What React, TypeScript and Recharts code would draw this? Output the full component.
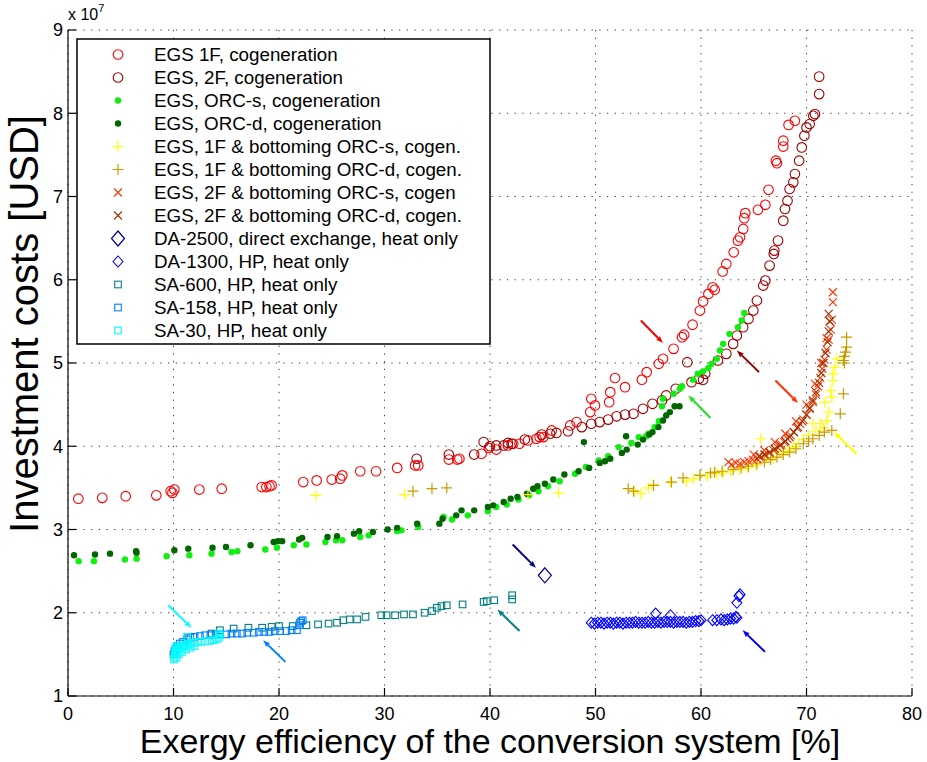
import React from 'react';
import { ScatterChart, Scatter, XAxis, YAxis, CartesianGrid, ReferenceLine } from 'recharts';

const FONT = '"Liberation Sans", Arial, Helvetica, sans-serif';

const xTicks = [0, 10, 20, 30, 40, 50, 60, 70, 80];
const yTicks = [1, 2, 3, 4, 5, 6, 7, 8, 9];
const xTitle = 'Exergy efficiency of the conversion system [%]';
const yTitle = 'Investment costs [USD]';

// [exergy efficiency %, investment cost in 1e7 USD]
const egs1F = [
  [0.98, 3.37], [3.25, 3.38], [5.47, 3.40], [8.37, 3.41], [9.73, 3.46], [9.9, 3.44], [10.08, 3.48], [12.45, 3.48],
  [14.57, 3.49], [18.36, 3.51], [18.8, 3.51], [19.1, 3.52], [19.3, 3.53], [22.3, 3.57], [23.57, 3.59], [25.0, 3.60],
  [25.8, 3.61], [26.0, 3.65], [27.7, 3.70], [29.2, 3.70], [31.2, 3.74], [32.9, 3.77], [33.2, 3.77], [36.1, 3.84],
  [36.9, 3.84], [37.1, 3.85], [39.2, 3.91], [39.9, 3.98], [40.6, 3.96], [41.7, 4.01], [42.2, 4.03], [42.8, 4.03],
  [43.6, 4.07], [44.4, 4.09], [44.7, 4.11], [45.05, 4.11], [45.85, 4.19], [47.6, 4.25], [48.2, 4.29], [49.5, 4.41],
  [49.6, 4.57], [49.95, 4.49], [51.3, 4.53], [51.4, 4.65], [51.85, 4.82], [52.8, 4.71], [54.4, 4.80], [54.85, 4.89],
  [56.0, 4.99], [56.4, 5.05], [57.4, 5.17], [58.2, 5.31], [58.4, 5.34], [59.2, 5.46], [59.9, 5.63], [60.2, 5.74],
  [60.7, 5.83], [61.1, 5.91], [61.3, 5.88], [62.05, 6.10], [62.4, 6.19], [63.1, 6.33], [63.5, 6.47], [63.7, 6.51],
  [64.0, 6.61], [64.1, 6.74], [64.2, 6.80], [65.4, 6.84], [66.1, 6.90], [66.4, 7.08], [67.1, 7.43], [67.2, 7.40],
  [67.8, 7.67], [67.8, 7.60], [68.3, 7.86], [68.9, 7.91],
];

const egs2F = [
  [33.05, 3.85], [36.1, 3.90], [38.5, 3.90], [39.4, 4.05], [40.0, 4.00], [40.6, 4.01], [41.3, 4.01], [41.7, 4.04],
  [42.05, 4.03], [43.3, 4.08], [44.9, 4.14], [45.7, 4.15], [46.3, 4.16], [47.4, 4.18], [48.7, 4.23], [49.6, 4.27],
  [50.4, 4.29], [51.2, 4.32], [52.0, 4.36], [52.8, 4.38], [53.6, 4.39], [54.5, 4.45], [55.4, 4.51], [56.3, 4.55],
  [56.7, 4.61], [57.6, 4.69], [58.7, 5.01], [59.1, 4.77], [59.8, 4.81], [60.2, 4.80], [60.4, 4.87], [61.6, 5.03],
  [62.4, 5.11], [63.05, 5.23], [63.4, 5.33], [64.0, 5.43], [64.5, 5.53], [64.96, 5.63], [65.3, 5.75], [65.9, 5.93],
  [66.1, 5.99], [66.5, 6.17], [66.9, 6.31], [66.95, 6.35], [67.3, 6.47], [67.8, 6.71], [67.96, 6.85], [68.2, 6.95],
  [68.4, 7.09], [68.75, 7.17], [68.9, 7.27], [69.3, 7.43], [69.55, 7.59], [69.8, 7.73], [70.0, 7.83], [70.3, 7.87],
  [70.65, 7.97], [70.8, 7.99], [71.2, 8.23], [71.2, 8.44],
];

const orcS = [
  [1.01, 2.62], [2.46, 2.62], [5.4, 2.64], [6.5, 2.65], [9.35, 2.68], [11.5, 2.69], [13.6, 2.71], [15.5, 2.73],
  [16.05, 2.74], [18.7, 2.76], [19.8, 2.78], [21.4, 2.81], [22.6, 2.82], [24.4, 2.85], [25.4, 2.87], [26.0, 2.87],
  [27.7, 2.91], [28.5, 2.93], [31.2, 2.98], [31.6, 2.99], [33.2, 3.03], [35.6, 3.15], [36.4, 3.12], [37.9, 3.17],
  [39.8, 3.22], [40.6, 3.27], [41.6, 3.30], [42.7, 3.36], [43.7, 3.41], [44.6, 3.46], [45.5, 3.52], [46.6, 3.58],
  [48.06, 3.67], [49.1, 3.75], [50.3, 3.83], [51.2, 3.88], [52.2, 3.99], [53.4, 4.04], [54.1, 4.11], [54.8, 4.12],
  [55.0, 4.15], [55.6, 4.23], [56.0, 4.30], [56.3, 4.48], [56.4, 4.57], [57.4, 4.63], [58.0, 4.69], [58.2, 4.72],
  [59.25, 4.80], [59.7, 4.87], [60.2, 4.90], [60.7, 4.94], [61.0, 4.99], [61.5, 5.05], [61.8, 5.15], [62.1, 5.23],
  [62.7, 5.35], [63.5, 5.43], [63.85, 5.51], [64.1, 5.60],
];

const orcD = [
  [0.57, 2.69], [2.56, 2.70], [3.98, 2.71], [6.45, 2.74], [6.5, 2.72], [10.08, 2.75], [11.4, 2.77], [13.7, 2.78],
  [14.98, 2.79], [17.3, 2.81], [19.5, 2.85], [19.9, 2.86], [20.3, 2.86], [21.9, 2.88], [22.2, 2.90], [24.6, 2.91],
  [25.5, 2.92], [27.1, 2.95], [27.6, 2.98], [28.9, 2.97], [30.3, 3.00], [31.2, 3.02], [33.1, 3.07], [35.2, 3.07],
  [35.5, 3.13], [36.8, 3.17], [37.3, 3.23], [38.5, 3.23], [39.8, 3.27], [40.3, 3.29], [41.3, 3.33], [41.96, 3.37],
  [42.6, 3.39], [43.5, 3.43], [44.1, 3.49], [44.5, 3.52], [45.2, 3.55], [46.0, 3.60], [47.05, 3.66], [48.4, 3.70],
  [48.9, 4.05], [49.4, 3.74], [50.4, 3.80], [50.9, 3.82], [51.4, 3.85], [52.5, 3.92], [52.9, 4.12], [52.96, 3.96],
  [54.0, 4.02], [54.5, 4.08], [55.1, 4.14], [55.4, 4.17], [55.96, 4.23], [56.4, 4.31], [56.7, 4.37], [57.05, 4.41],
  [57.5, 4.48], [57.96, 4.48],
];

const f1OrcS = [
  [23.5, 3.41], [31.9, 3.42], [43.6, 3.42], [46.5, 3.44], [53.7, 3.46], [54.3, 3.43], [55.0, 3.50], [55.5, 3.54],
  [57.1, 3.57], [58.6, 3.58], [59.3, 3.61], [59.9, 3.65], [60.6, 3.64], [61.5, 3.67], [62.1, 3.68], [62.8, 3.70],
  [63.6, 3.72], [64.4, 3.74], [65.2, 3.77], [65.65, 4.09], [66.2, 3.85], [66.8, 3.86], [67.5, 3.91], [68.2, 3.95],
  [68.8, 3.99], [69.2, 4.03], [69.7, 4.08], [70.2, 4.13], [70.6, 4.27], [70.9, 4.18], [71.3, 4.27], [71.6, 4.22],
  [71.9, 4.31], [72.1, 4.41], [71.75, 4.53], [72.4, 4.59], [72.3, 4.67], [72.5, 4.79], [72.5, 4.87], [72.7, 4.95],
  [72.9, 5.05],
];

const f1OrcD = [
  [32.7, 3.46], [34.5, 3.49], [35.9, 3.50], [53.1, 3.49], [53.6, 3.46], [55.5, 3.53], [57.2, 3.57], [58.3, 3.62],
  [59.9, 3.65], [60.9, 3.68], [61.3, 3.69], [62.0, 3.70], [63.05, 3.72], [63.8, 3.74], [64.5, 3.76], [65.3, 3.79],
  [66.0, 3.81], [66.6, 3.84], [67.2, 3.87], [67.8, 3.90], [68.4, 3.93], [69.0, 3.97], [69.7, 4.03], [70.2, 4.06],
  [70.6, 4.09], [71.2, 4.13], [71.7, 4.17], [72.4, 4.19], [73.2, 4.39], [73.5, 4.63], [73.5, 5.03], [73.6, 5.08],
  [73.7, 5.13], [73.8, 5.19], [73.8, 5.31], [73.6, 5.00],
];

const f2OrcS = [
  [62.6, 3.81], [62.9, 3.78], [63.3, 3.80], [63.7, 3.79], [64.1, 3.81], [64.5, 3.82], [64.9, 3.84], [65.3, 3.85],
  [65.7, 3.87], [66.1, 3.90], [66.5, 3.92], [66.9, 3.95], [67.3, 3.98], [67.6, 4.02], [67.9, 4.05], [68.2, 4.09],
  [68.5, 4.13], [68.8, 4.17], [69.1, 4.22], [69.4, 4.27], [69.7, 4.32], [70.0, 4.38], [70.3, 4.45], [70.6, 4.53],
  [70.9, 4.62], [71.1, 4.72], [71.3, 4.82], [71.5, 4.93], [71.7, 5.04], [71.9, 5.16], [72.1, 5.28], [72.3, 5.40],
  [72.4, 5.52], [72.5, 5.73], [72.5, 5.85], [65.0, 3.90], [66.0, 3.95], [67.0, 4.05], [68.0, 4.15], [69.0, 4.30],
  [70.0, 4.50], [70.8, 4.75], [71.4, 5.00], [71.9, 5.30], [72.2, 5.50],
];

const f2OrcD = [
  [65.5, 3.88], [66.0, 3.90], [66.5, 3.93], [67.0, 3.97], [67.5, 4.01], [68.0, 4.06], [68.4, 4.11], [68.8, 4.17],
  [69.2, 4.23], [69.6, 4.30], [70.0, 4.38], [70.3, 4.46], [70.6, 4.55], [70.9, 4.65], [71.2, 4.76], [71.4, 4.88],
  [71.6, 5.00], [71.8, 5.12], [72.0, 5.25], [72.1, 5.38], [72.2, 5.50], [72.1, 5.59],
];

const da2500 = [[45.2, 2.45]];

const da1300 = [
  [49.6, 1.88], [49.9, 1.87], [50.2, 1.88], [50.5, 1.88], [50.8, 1.87], [51.1, 1.88], [51.4, 1.88], [51.7, 1.87],
  [52.0, 1.88], [52.3, 1.88], [52.6, 1.87], [52.9, 1.88], [53.2, 1.88], [53.5, 1.88], [53.8, 1.89], [54.1, 1.88],
  [54.4, 1.88], [54.7, 1.88], [55.0, 1.89], [55.3, 1.88], [55.6, 1.88], [55.7, 1.99], [55.9, 1.89], [56.2, 1.88],
  [56.5, 1.89], [56.8, 1.89], [57.1, 1.97], [57.1, 1.89], [57.4, 1.88], [57.7, 1.89], [58.0, 1.89], [58.3, 1.89],
  [58.6, 1.88], [58.9, 1.89], [59.2, 1.89], [59.5, 1.90], [59.8, 1.90], [60.0, 1.91], [61.1, 1.91], [61.5, 1.91],
  [61.9, 1.92], [62.2, 1.91], [62.5, 1.92], [62.8, 1.93], [63.1, 1.93], [63.4, 1.94], [63.3, 1.95], [63.4, 2.12],
  [63.6, 2.20], [63.7, 2.22],
];

const sa600 = [
  [11.4, 1.71], [13.6, 1.75], [14.4, 1.79], [15.7, 1.81], [17.1, 1.82], [18.4, 1.82], [19.3, 1.83], [20.0, 1.84],
  [21.3, 1.84], [22.6, 1.85], [23.7, 1.86], [24.7, 1.87], [25.5, 1.88], [26.1, 1.91], [26.7, 1.92], [27.4, 1.92],
  [28.2, 1.95], [29.7, 1.97], [30.2, 1.97], [31.0, 1.97], [31.85, 1.98], [32.7, 1.98], [33.8, 2.00], [34.5, 2.02],
  [34.96, 2.06], [35.4, 2.08], [35.9, 2.09], [37.4, 2.10], [39.4, 2.13], [39.7, 2.14], [40.4, 2.15], [42.1, 2.16],
  [42.1, 2.21],
];

const sa158 = [
  [10.0, 1.50], [10.1, 1.54], [10.2, 1.57], [10.4, 1.60], [10.6, 1.63], [10.9, 1.65], [11.25, 1.68], [11.6, 1.70],
  [12.0, 1.71], [12.5, 1.72], [13.0, 1.73], [13.5, 1.73], [14.0, 1.74], [14.4, 1.74], [15.0, 1.74], [15.5, 1.75],
  [16.0, 1.75], [16.5, 1.75], [17.0, 1.76], [17.6, 1.76], [18.1, 1.77], [18.6, 1.77], [19.1, 1.77], [19.6, 1.78],
  [20.1, 1.78], [20.7, 1.78], [21.2, 1.79], [21.7, 1.79], [21.9, 1.85], [22.0, 1.88], [22.1, 1.90], [22.25, 1.91],
];

const sa30 = [
  [10.05, 1.44], [10.1, 1.47], [10.15, 1.50], [10.2, 1.52], [10.3, 1.54], [10.4, 1.55], [10.5, 1.57], [10.6, 1.58],
  [10.8, 1.59], [11.0, 1.60], [11.2, 1.61], [11.4, 1.62], [11.7, 1.63], [12.0, 1.64], [12.3, 1.65], [12.6, 1.65],
  [13.0, 1.66], [13.4, 1.66], [13.8, 1.67], [14.1, 1.68], [14.3, 1.70], [14.4, 1.73], [14.3, 1.75], [11.3, 1.71],
  [10.3, 1.60], [10.3, 1.46], [10.5, 1.50], [10.8, 1.53], [11.2, 1.56], [11.6, 1.58], [12.0, 1.60], [10.2, 1.58],
];

// annotation arrows: start (x1,y1) -> head (x2,y2)
const arrowStartX = [54.3, 65.5, 60.9, 67.05, 74.75, 42.15, 42.8, 66.07, 9.5, 20.6];
const arrowStartY = [5.51, 4.89, 4.34, 4.79, 3.91, 2.82, 1.78, 1.53, 2.09, 1.41];
const arrowEndX = [56.4, 63.4, 58.8, 69.2, 72.6, 44.35, 40.7, 63.95, 11.7, 18.5];
const arrowEndY = [5.24, 5.15, 4.61, 4.52, 4.17, 2.54, 2.04, 1.79, 1.82, 1.67];
const arrowColors = ['#EE0000', '#8B0000', '#22DD22', '#FF3300', '#FFFF00', '#000080', '#008080', '#0000EE', '#00FFFF', '#0080FF'];

const toPts = (arr: number[][]) => arr.map(([x, y]) => ({ x, y }));

type Marker = 'circle' | 'dot' | 'plus' | 'cross' | 'diamondL' | 'diamond' | 'square';

const series: { name: string; data: number[][]; color: string; marker: Marker }[] = [
  { name: 'EGS 1F, cogeneration', data: egs1F, color: '#FF0000', marker: 'circle' },
  { name: 'EGS, 2F, cogeneration', data: egs2F, color: '#A00000', marker: 'circle' },
  { name: 'EGS, ORC-s, cogeneration', data: orcS, color: '#11EE11', marker: 'dot' },
  { name: 'EGS, ORC-d, cogeneration', data: orcD, color: '#006600', marker: 'dot' },
  { name: 'EGS, 1F & bottoming ORC-s, cogen.', data: f1OrcS, color: '#FFFF00', marker: 'plus' },
  { name: 'EGS, 1F & bottoming ORC-d, cogen.', data: f1OrcD, color: '#CC9900', marker: 'plus' },
  { name: 'EGS, 2F & bottoming ORC-s, cogen', data: f2OrcS, color: '#FF3300', marker: 'cross' },
  { name: 'EGS, 2F & bottoming ORC-d, cogen.', data: f2OrcD, color: '#993300', marker: 'cross' },
  { name: 'DA-2500, direct exchange, heat only', data: da2500, color: '#000090', marker: 'diamondL' },
  { name: 'DA-1300, HP, heat only', data: da1300, color: '#0000FF', marker: 'diamond' },
  { name: 'SA-600, HP, heat only', data: sa600, color: '#008080', marker: 'square' },
  { name: 'SA-158, HP, heat only', data: sa158, color: '#0080FF', marker: 'square' },
  { name: 'SA-30, HP, heat only', data: sa30, color: '#00FFFF', marker: 'square' },
];

function drawMarker(marker: Marker, color: string, cx: number, cy: number) {
  switch (marker) {
    case 'circle':
      return <circle cx={cx} cy={cy} r={4.8} fill="none" stroke={color} strokeWidth={1.1} />;
    case 'dot':
      return <circle cx={cx} cy={cy} r={3.2} fill={color} stroke="none" />;
    case 'plus':
      return (
        <path d={`M${cx - 5.5},${cy}H${cx + 5.5}M${cx},${cy - 5.5}V${cy + 5.5}`} stroke={color} strokeWidth={1.2} fill="none" />
      );
    case 'cross':
      return (
        <path d={`M${cx - 4},${cy - 4}L${cx + 4},${cy + 4}M${cx - 4},${cy + 4}L${cx + 4},${cy - 4}`} stroke={color} strokeWidth={1.1} fill="none" />
      );
    case 'diamondL':
      return <path d={`M${cx},${cy - 7.5}L${cx + 6.5},${cy}L${cx},${cy + 7.5}L${cx - 6.5},${cy}Z`} fill="none" stroke={color} strokeWidth={1.2} />;
    case 'diamond':
      return <path d={`M${cx},${cy - 5.5}L${cx + 5},${cy}L${cx},${cy + 5.5}L${cx - 5},${cy}Z`} fill="none" stroke={color} strokeWidth={1.1} />;
    case 'square':
    default:
      return <rect x={cx - 3.3} y={cy - 3.3} width={6.6} height={6.6} fill="none" stroke={color} strokeWidth={1.1} />;
  }
}

const makeShape = (marker: Marker, color: string) => (props: any) => {
  const { cx, cy } = props;
  if (cx == null || cy == null) return <g />;
  return drawMarker(marker, color, cx, cy);
};

const makeArrow = (color: string) => (p: any) => {
  const { x1, y1, x2, y2 } = p;
  const dx = x2 - x1;
  const dy = y2 - y1;
  const len = Math.hypot(dx, dy) || 1;
  const ux = dx / len;
  const uy = dy / len;
  const hl = 7;
  const hw = 2.6;
  const bx = x2 - ux * hl;
  const by = y2 - uy * hl;
  const pts = `${x2},${y2} ${bx - uy * hw},${by + ux * hw} ${bx + uy * hw},${by - ux * hw}`;
  return (
    <g>
      <line x1={x1} y1={y1} x2={bx} y2={by} stroke={color} strokeWidth={2} />
      <polygon points={pts} fill={color} />
    </g>
  );
};

const XTitle = (props: any) => {
  const vb = props.viewBox || {};
  const cx = vb.x + vb.width / 2;
  return (
    <text x={cx} y={vb.y + 57} textAnchor="middle" fontFamily={FONT} fontSize={34} fill="#000">
      {xTitle}
    </text>
  );
};

const YTitle = (props: any) => {
  const vb = props.viewBox || {};
  const cx = 38;
  const cy = vb.y + vb.height / 2 - 39;
  return (
    <text x={cx} y={cy} transform={`rotate(-90 ${cx} ${cy})`} textAnchor="middle" fontFamily={FONT} fontSize={40} fill="#000">
      {yTitle}
    </text>
  );
};

function LegendBox() {
  return (
    <svg width={420} height={315} style={{ position: 'absolute', left: 76, top: 38 }}>
      <rect x={1} y={1} width={413} height={305} fill="#fff" stroke="#000" strokeWidth={1.5} />
      {series.map((s, i) => (
        <g key={s.name}>
          {drawMarker(s.marker, s.color, 42, 16.5 + 23 * i)}
          <text x={78} y={23.3 + 23 * i} fontFamily={FONT} fontSize={18.8} fill="#000">
            {s.name}
          </text>
        </g>
      ))}
    </svg>
  );
}

export default function App() {
  return (
    <div style={{ position: 'absolute', left: 0, top: 0, width: 927, height: 762, background: '#fff' }}>
      <ScatterChart width={927} height={762} margin={{ top: 30, right: 15, bottom: 0, left: 0 }}>
        <CartesianGrid stroke="#333" strokeDasharray="1.2 6.5" strokeWidth={1} />
        <XAxis
          type="number"
          dataKey="x"
          domain={[0, 80]}
          ticks={xTicks}
          interval={0}
          height={66}
          allowDataOverflow
          tickSize={-8}
          tickMargin={19}
          axisLine={{ stroke: '#000', strokeWidth: 1.2 }}
          tickLine={{ stroke: '#000', strokeWidth: 1.2 }}
          tick={{ fill: '#000', fontSize: 18, fontFamily: FONT }}
          label={XTitle}
        />
        <YAxis
          type="number"
          dataKey="y"
          domain={[1, 9]}
          ticks={yTicks}
          interval={0}
          width={68}
          allowDataOverflow
          tickSize={-8}
          tickMargin={13}
          axisLine={{ stroke: '#000', strokeWidth: 1.2 }}
          tickLine={{ stroke: '#000', strokeWidth: 1.2 }}
          tick={{ fill: '#000', fontSize: 18, fontFamily: FONT }}
          label={YTitle}
        />
        {series.map((s) => (
          <Scatter
            key={s.name}
            name={s.name}
            data={toPts(s.data)}
            fill={s.color}
            isAnimationActive={false}
            shape={makeShape(s.marker, s.color)}
          />
        ))}
        {arrowColors.map((c, i) => (
          <ReferenceLine
            key={'arrow' + i}
            segment={[
              { x: arrowStartX[i], y: arrowStartY[i] },
              { x: arrowEndX[i], y: arrowEndY[i] },
            ]}
            stroke={c}
            ifOverflow="visible"
            shape={makeArrow(c)}
          />
        ))}
      </ScatterChart>
      <div style={{ position: 'absolute', left: 68, top: 4, fontFamily: FONT, fontSize: 16, color: '#000', whiteSpace: 'nowrap' }}>
        x 10<sup style={{ fontSize: 11, position: 'relative', top: -2 }}>7</sup>
      </div>
      <LegendBox />
    </div>
  );
}
